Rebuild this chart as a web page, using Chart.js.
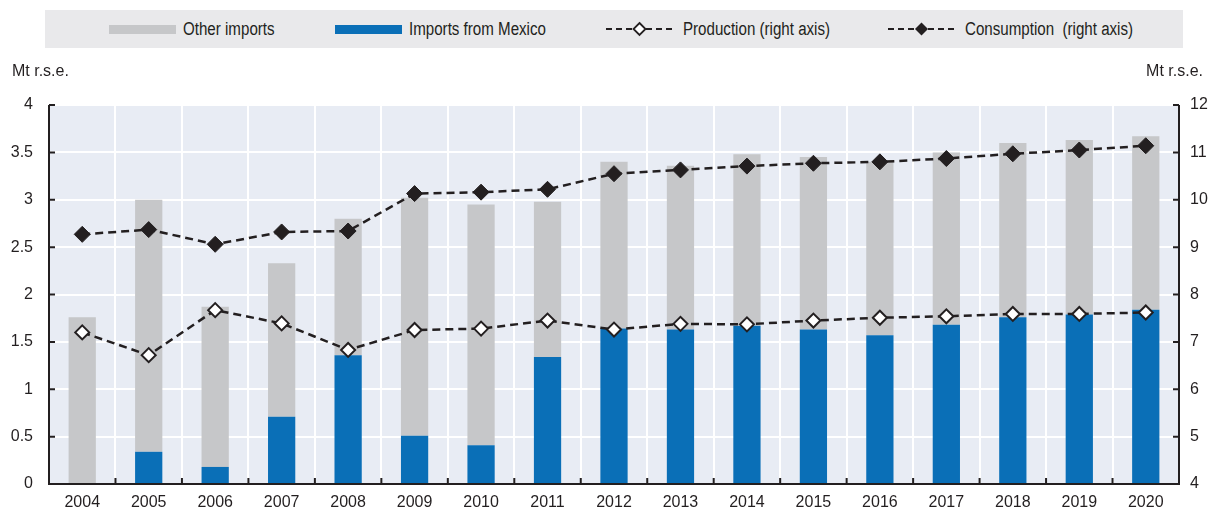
<!DOCTYPE html>
<html>
<head>
<meta charset="utf-8">
<script src="https://cdn.jsdelivr.net/npm/chart.js@4.4.1/dist/chart.umd.min.js"></script>
<style>
  html, body { margin: 0; padding: 0; background: #fff; }
  #wrap { position: relative; width: 1215px; height: 511px; font-family: "Liberation Sans Narrow", "Arial Narrow", "Liberation Sans", sans-serif; color: #231f20; }
  #legend { position: absolute; left: 45px; top: 10px; width: 1138px; height: 38px; background: #e9e9eb; }
  .item { position: absolute; top: 0; height: 38px; display: flex; align-items: center; font-size: 18px; white-space: pre; }
  .item span { display: inline-block; transform: scaleX(0.84); transform-origin: left center; }
  .swatch { width: 67px; height: 9px; margin-right: 7px; }
  .item svg { margin-right: 10px; }
  canvas { position: absolute; left: 0; top: 0; }
</style>
</head>
<body>
<div id="wrap">
  <canvas id="chart" width="1215" height="511"></canvas>
  <div id="legend">
    <div class="item" style="left:64px"><div class="swatch" style="background:#c6c7c9"></div><span>Other imports</span></div>
    <div class="item" style="left:290px"><div class="swatch" style="background:#0a6fb7"></div><span>Imports from Mexico</span></div>
    <div class="item" style="left:561px">
      <svg width="67" height="16"><line x1="0" y1="8" x2="67" y2="8" stroke="#231f20" stroke-width="2" stroke-dasharray="6,4"/><path d="M33.5 2 L39.5 8 L33.5 14 L27.5 8 Z" fill="#fff" stroke="#231f20" stroke-width="1.8"/></svg><span>Production (right axis)</span></div>
    <div class="item" style="left:843px">
      <svg width="67" height="16"><line x1="0" y1="8" x2="67" y2="8" stroke="#231f20" stroke-width="2" stroke-dasharray="6,4"/><path d="M33.5 1.5 L40 8 L33.5 14.5 L27 8 Z" fill="#231f20"/></svg><span>Consumption  (right axis)</span></div>
  </div>
</div>
<script>
const years = ['2004','2005','2006','2007','2008','2009','2010','2011','2012','2013','2014','2015','2016','2017','2018','2019','2020'];
const importsMexico = [0, 0.34, 0.18, 0.71, 1.36, 0.51, 0.41, 1.34, 1.64, 1.63, 1.67, 1.63, 1.57, 1.68, 1.76, 1.79, 1.84];
const otherImports  = [1.76, 2.66, 1.69, 1.62, 1.44, 2.51, 2.54, 1.64, 1.76, 1.73, 1.81, 1.82, 1.83, 1.82, 1.84, 1.84, 1.83];
const production    = [7.20, 6.72, 7.67, 7.39, 6.83, 7.25, 7.28, 7.45, 7.26, 7.38, 7.37, 7.45, 7.51, 7.54, 7.59, 7.59, 7.62];
const consumption   = [9.27, 9.37, 9.06, 9.32, 9.34, 10.13, 10.16, 10.22, 10.55, 10.63, 10.71, 10.77, 10.80, 10.87, 10.97, 11.05, 11.14];

const ink = '#231f20';
const fontFamily = '"Liberation Sans Narrow", "Arial Narrow", "Liberation Sans", sans-serif';

const frame = {
  id: 'frame',
  beforeDraw(chart) {
    const { ctx, chartArea: a } = chart;
    ctx.save();
    ctx.fillStyle = '#e8ecf4';
    ctx.fillRect(a.left, a.top, a.right - a.left, a.bottom - a.top);
    ctx.restore();
  },
  afterDraw(chart) {
    const { ctx, chartArea: a, scales } = chart;
    ctx.save();
    ctx.strokeStyle = ink;
    ctx.lineWidth = 2;
    ctx.beginPath();
    ctx.moveTo(a.left, a.top); ctx.lineTo(a.left, a.bottom); ctx.lineTo(a.right, a.bottom); ctx.lineTo(a.right, a.top);
    // inward ticks
    scales.y.ticks.forEach(t => {
      const y = scales.y.getPixelForValue(t.value);
      ctx.moveTo(a.left, y); ctx.lineTo(a.left + 6, y);
    });
    scales.y1.ticks.forEach(t => {
      const y = scales.y1.getPixelForValue(t.value);
      ctx.moveTo(a.right, y); ctx.lineTo(a.right - 6, y);
    });
    for (let i = 1; i < years.length; i++) {
      const x = (scales.x.getPixelForValue(i - 1) + scales.x.getPixelForValue(i)) / 2;
      ctx.moveTo(x, a.bottom); ctx.lineTo(x, a.bottom - 6);
    }
    ctx.stroke();
    ctx.fillStyle = ink;
    ctx.font = '16px ' + fontFamily;
    ctx.textBaseline = 'middle';
    ctx.textAlign = 'left';
    ctx.fillText('Mt r.s.e.', 12, 72);
    ctx.textAlign = 'right';
    ctx.fillText('Mt r.s.e.', 1203, 72);
    ctx.restore();
  }
};

const tickFont = { family: fontFamily, size: 16 };

new Chart(document.getElementById('chart'), {
  type: 'bar',
  data: {
    labels: years,
    datasets: [
      {
        type: 'line', label: 'Production (right axis)', data: production, yAxisID: 'y1', order: 1,
        borderColor: ink, borderWidth: 2.5, borderDash: [8, 5], pointStyle: 'rectRot',
        pointRadius: 7, pointBackgroundColor: '#fff', pointBorderColor: ink, pointBorderWidth: 2, tension: 0
      },
      {
        type: 'line', label: 'Consumption  (right axis)', data: consumption, yAxisID: 'y1', order: 1,
        borderColor: ink, borderWidth: 2.5, borderDash: [8, 5], pointStyle: 'rectRot',
        pointRadius: 8, pointBackgroundColor: ink, pointBorderColor: ink, pointBorderWidth: 1, tension: 0
      },
      {
        label: 'Imports from Mexico', data: importsMexico, backgroundColor: '#0a6fb7', yAxisID: 'y', order: 2,
        barPercentage: 0.41, categoryPercentage: 1
      },
      {
        label: 'Other imports', data: otherImports, backgroundColor: '#c6c7c9', yAxisID: 'y', order: 2,
        barPercentage: 0.41, categoryPercentage: 1
      }
    ]
  },
  options: {
    responsive: false,
    animation: false,
    layout: { padding: { top: 105, left: 0, right: 0, bottom: 0 } },
    plugins: { legend: { display: false }, tooltip: { enabled: false } },
    scales: {
      x: {
        stacked: true,
        grid: { color: '#fff', lineWidth: 2, drawTicks: false, offset: true },
        border: { display: false },
        ticks: { color: ink, font: tickFont, padding: 9, maxRotation: 0 },
        afterFit(s) { s.height = 27; }
      },
      y: {
        stacked: true, position: 'left', min: 0, max: 4,
        grid: { color: '#fff', lineWidth: 2, drawTicks: false },
        border: { display: false },
        ticks: { stepSize: 0.5, color: ink, font: tickFont, padding: 16, callback: v => String(v) },
        afterFit(s) { s.width = 49; }
      },
      y1: {
        stacked: false, position: 'right', min: 4, max: 12,
        grid: { drawOnChartArea: false, drawTicks: false },
        border: { display: false },
        ticks: { stepSize: 1, color: ink, font: tickFont, padding: 11, callback: v => String(v) },
        afterFit(s) { s.width = 36; }
      }
    }
  },
  plugins: [frame]
});
</script>
</body>
</html>
